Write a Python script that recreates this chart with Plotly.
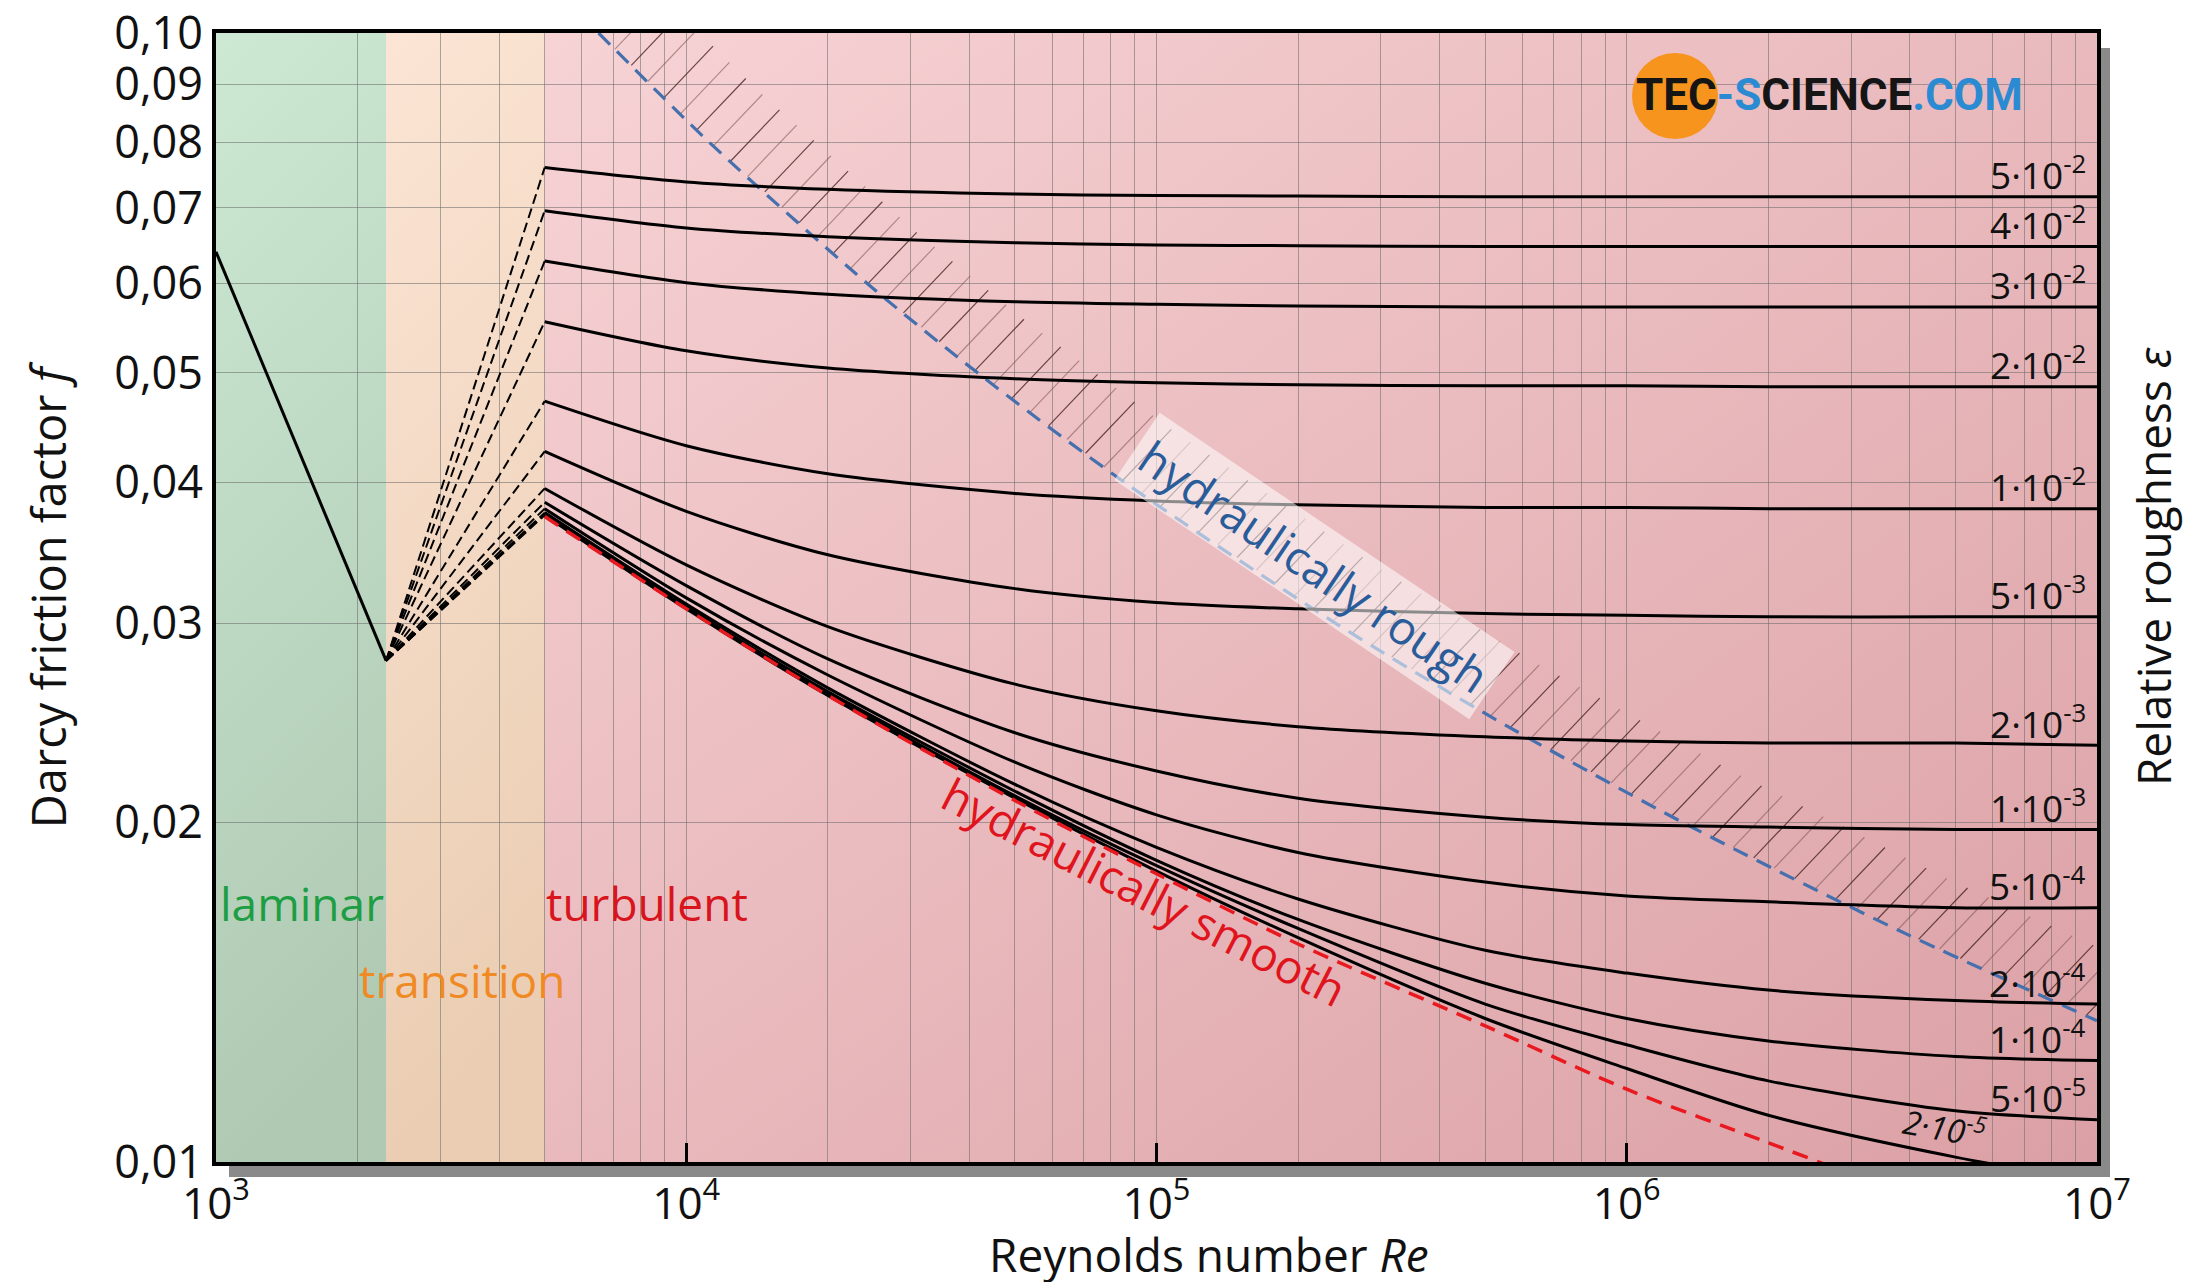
import base64
import numpy as np
import plotly.graph_objects as go

# ---------------- data ----------------
RE_GRID = [5e3, 1e4, 2e4, 5e4, 1e5, 2e5, 5e5, 1e6, 2e6, 5e6, 1e7]

F_5E2 = [0.0760, 0.0738, 0.0727, 0.0720, 0.0718, 0.0717, 0.0716, 0.0716, 0.0716, 0.0716, 0.0716]
F_4E2 = [0.0696, 0.0672, 0.0660, 0.0652, 0.0649, 0.0648, 0.0647, 0.0647, 0.0647, 0.0647, 0.0647]
F_3E2 = [0.0628, 0.0601, 0.0587, 0.0578, 0.0575, 0.0573, 0.0572, 0.0572, 0.0572, 0.0572, 0.0572]
F_2E2 = [0.0555, 0.0523, 0.0505, 0.0494, 0.0490, 0.0488, 0.0487, 0.0487, 0.0486, 0.0486, 0.0486]
F_1E2 = [0.0472, 0.0431, 0.0407, 0.0391, 0.0385, 0.0382, 0.0380, 0.0380, 0.0379, 0.0379, 0.0379]
F_5E3 = [0.0426, 0.0377, 0.0345, 0.0322, 0.0313, 0.0309, 0.0306, 0.0305, 0.0304, 0.0304, 0.0304]
F_2E3 = [0.0395, 0.0338, 0.0298, 0.0265, 0.0251, 0.0243, 0.0238, 0.0236, 0.0235, 0.0235, 0.0234]
F_1E3 = [0.0384, 0.0324, 0.0279, 0.0240, 0.0222, 0.0210, 0.0202, 0.0199, 0.0198, 0.0197, 0.0197]
F_5E4 = [0.0379, 0.0316, 0.0270, 0.0226, 0.0203, 0.0188, 0.0177, 0.0172, 0.0170, 0.0168, 0.0168]
F_2E4 = [0.0376, 0.0312, 0.0263, 0.0216, 0.0190, 0.0171, 0.0154, 0.0147, 0.0142, 0.0139, 0.0138]
F_1E4 = [0.0375, 0.0310, 0.0261, 0.0213, 0.0185, 0.0164, 0.0144, 0.0134, 0.0128, 0.0124, 0.0123]
F_5E5 = [0.0375, 0.0310, 0.0260, 0.0211, 0.0183, 0.0161, 0.0138, 0.0127, 0.0118, 0.0111, 0.0109]
F_2E5 = [0.0374, 0.0309, 0.0259, 0.0210, 0.0181, 0.0158, 0.0134, 0.0121, 0.0110, 0.0101, 0.0096]
F_SMOOTH = [0.0373, 0.0309, 0.0259, 0.0209, 0.0180, 0.0156, 0.0132, 0.0116, 0.0104, 0.0090, 0.0081]

CURVES = [F_5E2, F_4E2, F_3E2, F_2E2, F_1E2, F_5E3, F_2E3, F_1E3, F_5E4, F_2E4, F_1E4, F_5E5, F_2E5]
CURVE_LABELS = ["5·10<sup>-2</sup>", "4·10<sup>-2</sup>", "3·10<sup>-2</sup>", "2·10<sup>-2</sup>",
                "1·10<sup>-2</sup>", "5·10<sup>-3</sup>", "2·10<sup>-3</sup>", "1·10<sup>-3</sup>",
                "5·10<sup>-4</sup>", "2·10<sup>-4</sup>", "1·10<sup>-4</sup>", "5·10<sup>-5</sup>",
                "2·10<sup>-5</sup>"]

RE_LAMINAR = [1000, 2300]
F_LAMINAR = [0.0640, 0.0278]
RE_CRIT = 2300
RE_TURB = 5000

BOUND_RE = [6510, 11200, 24260, 41640, 85470, 240500, 496800, 1.312e6, 3.834e6, 1.0e7]
BOUND_F = [0.100, 0.080, 0.060, 0.050, 0.040, 0.030, 0.025, 0.020, 0.016, 0.01334]

REGION_EDGES = [1e3, 2300, 5e3, 1e7]
REGION_NAMES = ["laminar", "transition", "turbulent"]

X_TICKS = [1e3, 1e4, 1e5, 1e6, 1e7]
X_TICKTEXT = ["10<sup>3</sup>", "10<sup>4</sup>", "10<sup>5</sup>", "10<sup>6</sup>", "10<sup>7</sup>"]
Y_TICKS = [0.01, 0.02, 0.03, 0.04, 0.05, 0.06, 0.07, 0.08, 0.09, 0.10]
Y_TICKTEXT = ["0,01", "0,02", "0,03", "0,04", "0,05", "0,06", "0,07", "0,08", "0,09", "0,10"]
X_MINOR = [k * 10 ** n for n in range(3, 7) for k in range(2, 10)]

# ---------------- geometry / style ----------------
W, H = 2193, 1282
ML, MR, MT, MB = 208, 104, 25, 128
PW, PH = W - ML - MR, H - MT - MB
FONT = "Open Sans"
GRID = "rgba(105,105,105,0.55)"

fig = go.Figure()

# background gradient bands as an inline SVG image
def xfrac(re):
    return (np.log10(re) - 3) / 4.0

tops = ["#cde9d3", "#fce5d5", "#f7d3d5"]
bots = ["#afc9b3", "#eacdb2", "#dba0a5"]
defs, rects = "", ""
for i in range(3):
    x0 = xfrac(REGION_EDGES[i]) * PW
    x1 = xfrac(REGION_EDGES[i + 1]) * PW
    if i < 2:
        g = f'<linearGradient id="g{i}" x1="0" y1="0" x2="0.15" y2="1">'
    else:
        g = f'<linearGradient id="g{i}" x1="0" y1="0" x2="1" y2="1">'
    defs += g + f'<stop offset="0" stop-color="{tops[i]}"/><stop offset="1" stop-color="{bots[i]}"/></linearGradient>'
    rects += f'<rect x="{x0:.2f}" y="0" width="{x1 - x0 + 0.5:.2f}" height="{PH}" fill="url(#g{i})"/>'
svg = (f'<svg xmlns="http://www.w3.org/2000/svg" width="{PW}" height="{PH}" viewBox="0 0 {PW} {PH}" '
       f'preserveAspectRatio="none"><defs>{defs}</defs>{rects}</svg>')
src = "data:image/svg+xml;base64," + base64.b64encode(svg.encode()).decode()
fig.add_layout_image(dict(source=src, xref="paper", yref="paper", x=0, y=1, sizex=1, sizey=1,
                          xanchor="left", yanchor="top", sizing="stretch", layer="below"))

# hatching to the right of the rough boundary
bx = (np.log10(BOUND_RE) - 3) * PW / 4.0
by = (np.log10(BOUND_F) + 2) * PH
s = np.concatenate([[0], np.cumsum(np.hypot(np.diff(bx), np.diff(by)))])
hx_d, hy_d, hx_l, hy_l = [], [], [], []
for k, sk in enumerate(np.arange(0, s[-1], 23.0)):
    x0 = np.interp(sk, s, bx)
    y0 = np.interp(sk, s, by)
    L = 49.0
    xs = [10 ** (3 + x0 * 4.0 / PW), 10 ** (3 + (x0 + L) * 4.0 / PW), None]
    ys = [10 ** (-2 + y0 / PH), 10 ** (-2 + (y0 + L * 1.05) / PH), None]
    if k % 2 == 0:
        hx_d += xs; hy_d += ys
    else:
        hx_l += xs; hy_l += ys
fig.add_trace(go.Scatter(x=hx_l, y=hy_l, mode="lines", line=dict(color="rgba(120,80,80,0.55)", width=1.2),
                         hoverinfo="skip"))
fig.add_trace(go.Scatter(x=hx_d, y=hy_d, mode="lines", line=dict(color="rgba(70,35,35,0.8)", width=1.2),
                         hoverinfo="skip"))

# rough boundary
fig.add_trace(go.Scatter(x=BOUND_RE, y=BOUND_F, mode="lines", line=dict(color="#4670ad", width=3.2,
                         dash="16px,10px", shape="spline", smoothing=0.8), hoverinfo="skip"))

# laminar line
fig.add_trace(go.Scatter(x=RE_LAMINAR, y=F_LAMINAR, mode="lines", line=dict(color="black", width=3),
                         hoverinfo="skip"))

# transition dashed lines
for f in CURVES:
    fig.add_trace(go.Scatter(x=[RE_CRIT, RE_TURB], y=[F_LAMINAR[1], f[0]], mode="lines",
                             line=dict(color="black", width=2, dash="10px,5px"), hoverinfo="skip"))

# roughness curves
for f in CURVES:
    fig.add_trace(go.Scatter(x=RE_GRID, y=f, mode="lines",
                             line=dict(color="black", width=3, shape="spline", smoothing=0.8),
                             hoverinfo="skip"))

# hydraulically smooth
fig.add_trace(go.Scatter(x=RE_GRID, y=F_SMOOTH, mode="lines",
                         line=dict(color="#e8191f", width=3.5, dash="16px,10px", shape="spline", smoothing=0.8),
                         hoverinfo="skip"))

# ---------------- annotations ----------------
def A(**kw):
    d = dict(showarrow=False, xanchor="center", yanchor="middle")
    d.update(kw)
    return d

ann = []
for lab, f in zip(CURVE_LABELS[:-1], CURVES[:-1]):
    ann.append(A(x=np.log10(RE_GRID[-1]), y=np.log10(f[-1]), xref="x", yref="y", text=lab,
                 xanchor="right", xshift=-9, yshift=24,
                 font=dict(family=FONT, size=37, color="#111")))
ann.append(A(x=np.log10(4.75e6), y=np.log10(0.01075), xref="x", yref="y", text="<i>" + CURVE_LABELS[-1] + "</i>",
             textangle=10, font=dict(family=FONT, size=33, color="#111")))

region_pos = [(0.0455, 0.2295, "#1e9e44"), (0.131, 0.1615, "#f08a24"), (0.2289, 0.2295, "#d8141d")]
for name, (px, py, col) in zip(REGION_NAMES, region_pos):
    ann.append(A(x=px, y=py, xref="paper", yref="paper", text=name,
                 font=dict(family=FONT, size=46, color=col)))

ann.append(A(x=0.584, y=0.528, xref="paper", yref="paper", text="hydraulically rough",
             textangle=34, font=dict(family=FONT, size=46, color="#2a5c9a"),
             bgcolor="rgba(255,255,255,0.55)", borderpad=9))
ann.append(A(x=0.4935, y=0.240, xref="paper", yref="paper", text="hydraulically smooth",
             textangle=27, font=dict(family=FONT, size=46, color="#e0141c")))

ann.append(A(x=-0.0893, y=0.502, xref="paper", yref="paper", text="Darcy friction factor <i>f</i>",
             textangle=-90, font=dict(family=FONT, size=47, color="#111")))
ann.append(A(x=0.528, y=-0.0815, xref="paper", yref="paper", text="Reynolds number <i>Re</i>",
             font=dict(family=FONT, size=46, color="#111"), borderpad=0))
ann.append(A(x=1.0298, y=0.527, xref="paper", yref="paper", text="Relative roughness <i>ε</i>",
             textangle=-90, font=dict(family=FONT, size=46, color="#111")))

logo = ('<b><span style="color:#151515">TEC</span><span style="color:#2a8bd3">-S</span>'
        '<span style="color:#151515">CIENCE</span><span style="color:#2a8bd3">.COM</span></b>')
ann.append(A(x=0.8576, y=0.945, xref="paper", yref="paper", text=logo,
             font=dict(family="Roboto", size=44)))

# ---------------- shapes ----------------
cx, cy, r = (1667 - ML) / PW, (H - MB - 88) / PH, 43
shapes = [
    dict(type="circle", xref="paper", yref="paper", x0=cx - r / PW, x1=cx + r / PW,
         y0=cy - r / PH, y1=cy + r / PH, fillcolor="#f7941d", line=dict(width=0), layer="above"),
    # drop shadow of the frame
    dict(type="rect", xref="paper", yref="paper", x0=1 + 2 / PW, x1=1 + 13 / PW, y0=-15 / PH, y1=1 - 15 / PH,
         fillcolor="#8a8a8a", line=dict(width=0), layer="below"),
    dict(type="rect", xref="paper", yref="paper", x0=13 / PW, x1=1 + 13 / PW, y0=-15 / PH, y1=-2 / PH,
         fillcolor="#8a8a8a", line=dict(width=0), layer="below"),
]

fig.update_layout(
    width=W, height=H, margin=dict(l=ML, r=MR, t=MT, b=MB, autoexpand=False),
    paper_bgcolor="white", plot_bgcolor="white", showlegend=False,
    font=dict(family=FONT, size=44, color="#111"),
    annotations=ann, shapes=shapes,
    xaxis=dict(type="log", range=[3, 7], tickvals=X_TICKS, ticktext=X_TICKTEXT,
               ticks="inside", ticklen=19, tickwidth=3, tickcolor="black",
               showgrid=True, gridcolor=GRID, gridwidth=1.3,
               minor=dict(tickvals=X_MINOR, showgrid=True, gridcolor=GRID, gridwidth=1.3, ticks=""),
               showline=True, linecolor="black", linewidth=4, mirror=True,
               ticklabeloverflow="allow",
               tickfont=dict(family=FONT, size=44, color="#111"), zeroline=False),
    yaxis=dict(type="log", range=[-2, -1], tickvals=Y_TICKS, ticktext=Y_TICKTEXT, ticks="",
               showgrid=True, gridcolor=GRID, gridwidth=1.3,
               showline=True, linecolor="black", linewidth=4, mirror=True,
               ticklabeloverflow="allow",
               tickfont=dict(family=FONT, size=45, color="#111"), zeroline=False),
)

fig.write_html("out.html")
